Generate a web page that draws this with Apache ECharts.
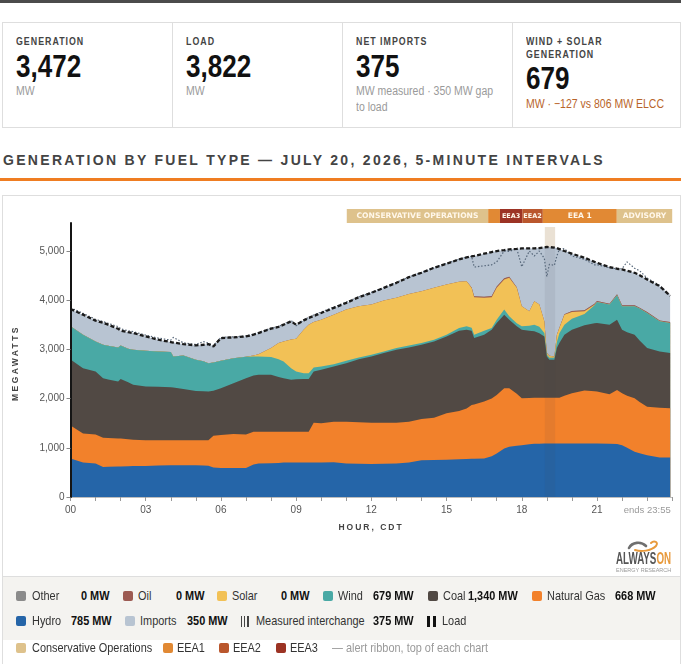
<!DOCTYPE html>
<html><head><meta charset="utf-8">
<script src="https://cdn.jsdelivr.net/npm/echarts@6/dist/echarts.min.js"></script>
<style>
html,body{margin:0;padding:0;background:#fff;}
body{width:689px;height:664px;position:relative;overflow:hidden;font-family:"Liberation Sans",Arial,sans-serif;color:#222;}
.a{position:absolute;white-space:nowrap;}
.n{transform:scaleX(0.84);transform-origin:0 50%;}
.lbl{font-weight:bold;font-size:10.5px;letter-spacing:1.2px;color:#444;line-height:13px;}
.val{font-weight:bold;font-size:31px;line-height:30px;color:#111;}
.sub{font-size:12.5px;color:#9a9a9a;line-height:16px;}
.lg{font-size:13px;line-height:16px;color:#333;}
.lv{font-size:13px;line-height:16px;color:#111;font-weight:bold;}
.sw{width:10px;height:10px;border-radius:2px;}
</style>
</head><body>
<div class="a" style="left:0;top:0;width:681px;height:3px;background:#4b4b4b;"></div>
<div class="a" style="left:2px;top:22px;width:677px;height:104px;border:1px solid #dedede;"></div>
<div class="a" style="left:172px;top:22px;width:1px;height:106px;background:#dedede;"></div>
<div class="a" style="left:342px;top:22px;width:1px;height:106px;background:#dedede;"></div>
<div class="a" style="left:512px;top:22px;width:1px;height:106px;background:#dedede;"></div>

<div class="a lbl n" style="left:16px;top:34.5px;">GENERATION</div>
<div class="a val n" style="left:16px;top:51.5px;">3,472</div>
<div class="a sub n" style="left:16px;top:83px;">MW</div>

<div class="a lbl n" style="left:186px;top:34.5px;">LOAD</div>
<div class="a val n" style="left:186px;top:51.5px;">3,822</div>
<div class="a sub n" style="left:186px;top:83px;">MW</div>

<div class="a lbl n" style="left:356px;top:34.5px;">NET IMPORTS</div>
<div class="a val n" style="left:356px;top:51.5px;">375</div>
<div class="a sub n" style="left:356px;top:83px;">MW measured · 350 MW gap<br>to load</div>

<div class="a lbl n" style="left:526px;top:34.5px;">WIND + SOLAR<br>GENERATION</div>
<div class="a val n" style="left:526px;top:63.5px;">679</div>
<div class="a sub n" style="left:526px;top:96px;color:#b8642a;">MW · −127 vs 806 MW ELCC</div>

<div class="a" style="left:3px;top:152px;font-weight:bold;font-size:14px;line-height:16px;letter-spacing:2.3px;color:#444;">GENERATION BY FUEL TYPE — JULY 20, 2026, 5-MINUTE INTERVALS</div>
<div class="a" style="left:0;top:178px;width:681px;height:2.5px;background:#ef7d22;"></div>

<div class="a" style="left:2px;top:195px;width:677px;height:520px;border:1px solid #dedede;"></div>
<div class="a" style="left:3px;top:576px;width:677px;height:1px;background:#dedede;"></div>
<div class="a" style="left:3px;top:577px;width:677px;height:63px;background:#f4f3f0;"></div>

<div id="chart" class="a" style="left:3px;top:196px;width:677px;height:380px;"></div>

<div class="a" style="left:15px;top:363px;transform:translate(-50%,-50%) rotate(-90deg);font-weight:bold;font-size:8.5px;letter-spacing:2.4px;color:#444;">MEGAWATTS</div>
<div class="a" style="left:371px;top:527px;transform:translate(-50%,-50%);font-weight:bold;font-size:8.5px;letter-spacing:2px;color:#444;">HOUR, CDT</div>

<svg class="a" style="left:627px;top:539px;" width="33" height="14" viewBox="0 0 33 14">
<path d="M2 9 C5 3,14 2,19 7" stroke="#6f6f6f" stroke-width="2.6" fill="none" stroke-linecap="round"/>
<path d="M8 11 C14 13,24 12,29 7 C32 3,27 1,24 4" stroke="#e89a3c" stroke-width="2" fill="none" stroke-linecap="round"/>
</svg>
<div id="logo1" class="a" style="left:616px;top:551px;font-weight:bold;font-size:16px;line-height:16px;transform-origin:0 0;"><span style="color:#555">ALWAYS</span><span style="color:#e89a3c">ON</span></div>
<div id="logo2" class="a" style="left:616px;top:566.5px;font-size:6px;line-height:6px;color:#999;transform-origin:0 0;">ENERGY RESEARCH</div>

<div id="legend"></div>

<script>
// ---- data ----
const times = [0,0.5,1,1.3,1.5,1.9,2,2.3,2.5,3,3.5,4,4.1,4.5,5,5.3,5.5,5.7,6,6.5,7,7.3,7.5,8,8.3,8.5,8.8,9,9.3,9.5,9.7,10,10.5,11,11.5,12,12.5,13,13.5,14,14.5,15,15.5,15.8,16,16.1,16.5,16.8,17,17.3,17.5,17.8,18,18.3,18.5,18.7,18.9,19,19.1,19.3,19.4,19.5,19.7,20,20.5,20.9,21,21.5,21.8,22,22.2,22.5,22.7,23,23.5,23.917];
const hydro = [785,701,680,612,615,619,619,625,630,632,640,646,646,646,646,640,633,600,592,592,592,660,680,687,690,700,700,700,700,700,700,700,705,680,676,673,676,680,700,748,750,755,765,775,780,780,782,830,884,986,1020,1040,1054,1070,1082,1085,1088,1088,1088,1088,1088,1088,1088,1088,1088,1088,1088,1085,1075,1054,1000,918,890,850,803,803];
const naturalGas = [668,592,592,592,585,571,571,550,535,524,516,510,510,510,510,516,523,645,667,687,680,667,647,640,637,627,627,627,627,627,810,797,826,851,844,837,834,830,830,837,862,946,983,1025,1091,1100,1157,1170,1191,1225,1191,1060,953,945,938,935,932,932,932,932,932,932,972,1021,1075,1062,1055,1003,1102,1055,1060,1089,1040,987,1013,1000];
const coal = [1340,1326,1279,1211,1190,1157,1211,1158,1115,1089,1084,1075,1069,1039,1000,994,987,915,952,1034,1143,1143,1156,1156,1113,1088,1054,1068,1074,1074,1041,1088,1122,1190,1280,1347,1415,1483,1511,1510,1551,1564,1633,1601,1509,1351,1360,1401,1462,1496,1394,1369,1394,1365,1347,1310,1245,837,769,769,1007,1109,1240,1292,1327,1380,1394,1415,1428,1292,1290,1292,1250,1190,1143,1122];
const wind = [679,680,612,680,685,694,681,681,715,728,720,715,632,683,633,610,578,575,558,510,435,387,374,361,360,340,238,156,116,116,82,68,48,48,37,34,34,37,41,34,34,34,54,69,60,69,82,34,68,103,68,61,68,100,136,130,68,34,41,41,123,201,200,225,231,370,429,409,497,477,528,579,650,714,612,612];
const solar = [0,0,0,0,0,0,0,0,0,0,0,0,0,0,0,0,0,0,0,0,0,18,43,183,329,408,581,667,884,986,927,952,1006,1041,1041,1021,1034,1018,1047,1055,1055,1021,939,918,810,760,667,625,647,612,783,722,409,296,477,452,238,34,40,27,150,105,207,136,55,10,0,0,0,0,0,0,0,0,0,0];
const oil = [0,0,0,0,0,0,0,0,0,0,0,0,0,0,0,0,0,0,0,0,0,0,0,0,0,0,0,0,0,0,0,0,0,0,0,0,0,0,0,0,0,0,0,0,10,22,25,25,25,25,20,10,0,0,0,0,0,0,0,0,0,5,10,18,18,18,18,18,18,18,18,18,18,18,18,18];
const other = times.map(() => 0);
const load = [3822,3707,3585,3540,3503,3420,3381,3350,3333,3265,3197,3150,3140,3109,3082,3095,3109,3061,3231,3245,3265,3300,3333,3422,3460,3503,3570,3503,3590,3639,3680,3741,3844,3946,4061,4150,4252,4354,4469,4558,4660,4741,4830,4870,4890,4900,4946,4980,5000,5020,5034,5045,5054,5054,5054,5060,5075,5082,5080,5070,5060,5040,5000,4946,4864,4780,4762,4673,4640,4626,4600,4558,4510,4422,4286,4090];
const measuredInterchange = [375,436,447,470,455,424,338,366,365,317,270,244,388,257,311,400,409,340,476,432,425,435,445,405,341,349,390,262,199,147,140,155,153,150,192,248,267,314,346,381,414,428,462,488,635,593,627,635,503,553,514,788,802,1224,920,1088,1279,1555,1860,1853,1600,1600,1333,1120,1036,792,736,730,520,744,884,754,752,691,711,545];
// alert ribbon (hours)
const ribbonStart = [11.02,16.66,17.13,18.02,18.84,21.79];
const ribbonEnd   = [16.66,17.13,18.02,18.84,21.79,24.0];
const ribbonLevel = ['cons','eea1','eea3','eea2','eea1','adv'];
const ribbonLabel = ['CONSERVATIVE OPERATIONS','','EEA3','EEA2','EEA 1','ADVISORY'];
const highlightRange = [18.92, 19.33];
const yTicks = [0,1000,2000,3000,4000,5000];
const xTickLabels = ['00','03','06','09','12','15','18','21'];

// ---- derived ----
const generation = times.map((t,i) => hydro[i]+naturalGas[i]+coal[i]+wind[i]+solar[i]+oil[i]+other[i]);
const imports = times.map((t,i) => load[i]-generation[i]);
const measuredLine = times.map((t,i) => generation[i]+measuredInterchange[i]);

const colors = {Hydro:'#2565a8','Natural Gas':'#f2812b',Coal:'#514944',Wind:'#49a9a5',Solar:'#f2c156',Oil:'#9c5a52',Other:'#8b8b8b',Imports:'#b8c4d2'};
const ribbonColors = {cons:'#dec28c',adv:'#dec28c',eea1:'#e18934',eea2:'#ba572d',eea3:'#9c3324'};
const FONT = '"Liberation Sans",Arial,sans-serif';

// stack the layers (bottom -> top); each drawn as its cumulative top filled to zero,
// painted top layer first so lower layers cover it
const layers = [['Hydro',hydro],['Natural Gas',naturalGas],['Coal',coal],['Wind',wind],['Solar',solar],['Oil',oil],['Other',other],['Imports',imports]];
let run = times.map(() => 0);
const cumulative = layers.map(([name, vals]) => { run = run.map((r,i) => r + vals[i]); return [name, run.slice()]; });
const series = cumulative.slice().reverse().map(([name, tops]) => ({
  name, type:'line', xAxisIndex:0, yAxisIndex:0,
  data: times.map((t,i)=>[t, tops[i]]),
  symbol:'none', showSymbol:false, lineStyle:{width:0}, itemStyle:{color:colors[name]},
  areaStyle:{color:colors[name], opacity:1, origin:'start'}, z:2, silent:true
}));
series[0].markArea = {silent:true, z:1, itemStyle:{color:'rgb(249,239,224)'}, data:[[{xAxis:highlightRange[0], yAxis:0},{xAxis:highlightRange[1], yAxis:5490}]]};
series.push({
  name:'Measured interchange', type:'line', data: times.map((t,i)=>[t, measuredLine[i]]),
  symbol:'none', lineStyle:{color:'#56677a', width:1.2, type:[1.5,1.8]}, z:4, silent:true
});
series.push({
  name:'Load', type:'line', data: times.map((t,i)=>[t, load[i]]),
  symbol:'none', lineStyle:{color:'#1a1a1a', width:2.3, type:[4,2.2]}, z:5, silent:true,
  markArea:{silent:true, z:3, itemStyle:{color:'rgba(60,64,80,0.08)'}, data:[[{xAxis:highlightRange[0], yAxis:0},{xAxis:highlightRange[1], yAxis:5490}]]}
});
series.push({
  name:'Alert ribbon', type:'custom', xAxisIndex:1, yAxisIndex:1, silent:true,
  data: ribbonStart.map((s,i)=>[s, ribbonEnd[i]]),
  encode:{x:[0,1]},
  renderItem: function(params, api){
    const p0 = api.coord([api.value(0), 1]);
    const p1 = api.coord([api.value(1), 0]);
    const i = params.dataIndex;
    const lvl = ribbonLevel[i];
    const small = (lvl==='eea2'||lvl==='eea3');
    return {type:'group', children:[
      {type:'rect', shape:{x:p0[0], y:p0[1], width:p1[0]-p0[0], height:p1[1]-p0[1]}, style:{fill:ribbonColors[lvl]}},
      {type:'text', style:{text:ribbonLabel[i], x:(p0[0]+p1[0])/2, y:(p0[1]+p1[1])/2+0.5, align:'center', verticalAlign:'middle',
        fill:'#fff7ea', font: small ? 'bold 6.5px "DejaVu Sans"' : 'bold 7.6px "DejaVu Sans"'}}
    ]};
  }
});

const chart = echarts.init(document.getElementById('chart'), null, {renderer:'canvas'});
chart.setOption({
  animation:false,
  textStyle:{fontFamily:FONT},
  grid:[
    {left:67.5, right:7.8, top:27, bottom:79, outerBoundsMode:'none', containLabel:false},
    {left:67.5, right:7.8, top:13, height:14, outerBoundsMode:'none', containLabel:false}
  ],
  xAxis:[
    {type:'value', gridIndex:0, min:0, max:24, interval:1,
     axisLine:{show:true, lineStyle:{color:'#bdbdbd', width:1}},
     axisTick:{show:true, length:4, lineStyle:{color:'#999'}},
     axisLabel:{color:'#555', fontSize:10, margin:8, fontFamily:FONT,
       formatter:function(v){ return (v%3===0 && v<24) ? xTickLabels[v/3] : ''; }},
     splitLine:{show:false}},
    {type:'value', gridIndex:1, min:0, max:24, show:false}
  ],
  yAxis:[
    {type:'value', gridIndex:0, min:0, max:5570, z:10,
     axisLine:{show:true, lineStyle:{color:'#151515', width:2}},
     axisTick:{show:true, length:4, lineStyle:{color:'#888'}, customValues:yTicks},
     axisLabel:{color:'#555', fontSize:10, margin:6, fontFamily:FONT, customValues:yTicks,
       formatter:function(v){ return v.toLocaleString('en-US'); }},
     splitLine:{show:false}},
    {type:'value', gridIndex:1, min:0, max:1, show:false}
  ],
  graphic:[{type:'text', x:667.7, y:314, style:{text:'ends 23:55', align:'right', verticalAlign:'middle', fill:'#9a9a9a', font:'9.5px '+FONT}}],
  series
});

// ---- HTML legend ----
const fmt = v => v.toLocaleString('en-US') + ' MW';
const legendItems = [
  {cy:596, sw:16, tx:31.7, vx:81, label:'Other', color:colors.Other, value:fmt(other[0])},
  {cy:596, sw:123.3, tx:138.3, vx:175.7, label:'Oil', color:colors.Oil, value:fmt(oil[0])},
  {cy:596, sw:217.3, tx:232.3, vx:280.7, label:'Solar', color:colors.Solar, value:fmt(solar[0])},
  {cy:596, sw:323.3, tx:338.3, vx:373.3, label:'Wind', color:colors.Wind, value:fmt(wind[0])},
  {cy:596, sw:428.3, tx:442.7, vx:468.3, label:'Coal', color:colors.Coal, value:fmt(coal[0])},
  {cy:596, sw:532.3, tx:547.3, vx:615, label:'Natural Gas', color:colors['Natural Gas'], value:fmt(naturalGas[0])},
  {cy:621, sw:16, tx:31.7, vx:71, label:'Hydro', color:colors.Hydro, value:fmt(hydro[0])},
  {cy:621, sw:125, tx:140, vx:187, label:'Imports', color:colors.Imports, value:fmt(imports[0])},
  {cy:621, icon:'measured', sw:240.7, tx:256, vx:372.7, label:'Measured interchange', value:fmt(measuredInterchange[0])},
  {cy:621, icon:'load', sw:427.3, tx:441.7, label:'Load'},
  {cy:648, sw:16, tx:31.7, label:'Conservative Operations', color:ribbonColors.cons},
  {cy:648, sw:162.7, tx:176.7, label:'EEA1', color:ribbonColors.eea1},
  {cy:648, sw:219, tx:233.3, label:'EEA2', color:ribbonColors.eea2},
  {cy:648, sw:275.7, tx:290, label:'EEA3', color:ribbonColors.eea3}
];
let html = '';
legendItems.forEach(it => {
  if (it.icon === 'measured') {
    for (let k=0;k<3;k++) html += `<div class="a" style="left:${it.sw+k*3.3}px;top:${it.cy-5}px;width:1.3px;height:11px;background:#444;"></div>`;
  } else if (it.icon === 'load') {
    for (let k=0;k<2;k++) html += `<div class="a" style="left:${it.sw+k*5.5}px;top:${it.cy-5.5}px;width:3px;height:11px;background:#111;"></div>`;
  } else {
    html += `<div class="a sw" style="left:${it.sw}px;top:${it.cy-5}px;background:${it.color};"></div>`;
  }
  html += `<div class="a lg n" style="left:${it.tx}px;top:${it.cy-8}px;">${it.label}</div>`;
  if (it.value) html += `<div class="a lv n" style="left:${it.vx}px;top:${it.cy-8}px;">${it.value}</div>`;
});
html += `<div class="a lg n" style="left:331.7px;top:640px;color:#9a9a9a;">— alert ribbon, top of each chart</div>`;
document.getElementById('legend').innerHTML = html;

// fit logo text widths
[['logo1',55],['logo2',55]].forEach(([id,w]) => {
  const el = document.getElementById(id);
  const nat = el.scrollWidth;
  if (nat > 0) el.style.transform = 'scaleX(' + (w/nat) + ')';
});
</script>
</body></html>
